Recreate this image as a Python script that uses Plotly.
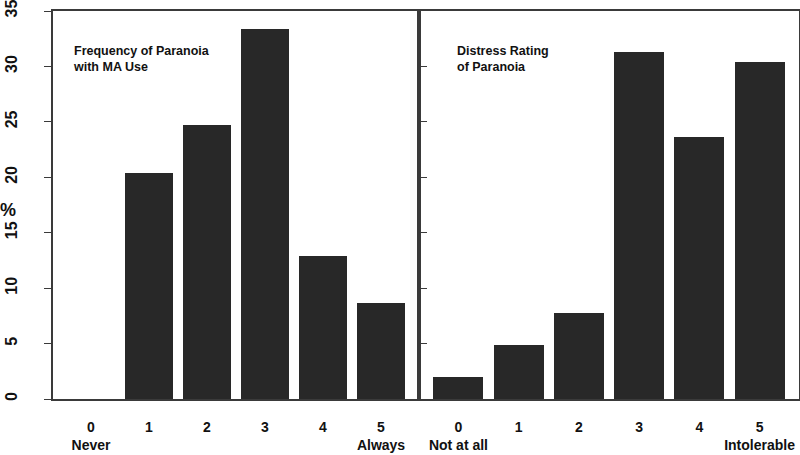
import plotly.graph_objects as go

categories = [0, 1, 2, 3, 4, 5]
freq_labels = ["0<br>Never", "1", "2", "3", "4", "5<br>Always"]
distress_labels = ["0<br>Not at all", "1", "2", "3", "4", "5<br>Intolerable"]
freq_values = [0, 20.4, 24.7, 33.35, 12.9, 8.65]
distress_values = [1.96, 4.87, 7.8, 31.3, 23.6, 30.4]
y_ticks = [0, 5, 10, 15, 20, 25, 30, 35]

bar_color = "#282828"
line_color = "#3a3a3a"
font_bold = "Liberation Sans"

fig = go.Figure()
fig.add_trace(go.Bar(x=categories, y=freq_values, width=0.83, marker_color=bar_color,
                     marker_line_width=0, xaxis="x", yaxis="y", showlegend=False))
fig.add_trace(go.Bar(x=categories, y=distress_values, width=0.83, marker_color=bar_color,
                     marker_line_width=0, xaxis="x2", yaxis="y2", showlegend=False))

split = (419 - 53) / 746

def bold(labels):
    return ["<b>" + "</b><br><b>".join(s.split("<br>")) + "</b>" for s in labels]

xcommon = dict(range=[-0.655, 5.655], tickmode="array", tickvals=categories,
               showline=True, linecolor=line_color, linewidth=1.5, mirror=True,
               ticks="", showgrid=False, zeroline=False, automargin=False,
               ticklabeloverflow="allow",
               tickfont=dict(family=font_bold, size=14, color="#111"),
               ticklabelstandoff=14)

fig.update_layout(
    width=800, height=455,
    margin=dict(l=53, r=1, t=11, b=56, autoexpand=False),
    plot_bgcolor="white", paper_bgcolor="white",
    bargap=0,
    xaxis=dict(domain=[0, split], ticktext=bold(freq_labels), anchor="y", **xcommon),
    xaxis2=dict(domain=[split, 1], ticktext=bold(distress_labels), anchor="y2", **xcommon),
    yaxis=dict(range=[0, 35], tickmode="array", tickvals=y_ticks,
               ticktext=["<b>%d</b>" % v for v in y_ticks], anchor="x",
               showline=True, linecolor=line_color, linewidth=1.5, mirror=True,
               ticks="outside", ticklen=7, tickwidth=1.2, tickcolor=line_color,
               showgrid=False, zeroline=False, tickangle=-90, automargin=False,
               ticklabeloverflow="allow",
               tickfont=dict(family=font_bold, size=16, color="#111"),
               ticklabelstandoff=21),
    yaxis2=dict(range=[0, 35], tickmode="array", tickvals=y_ticks, anchor="x2",
                showline=True, linecolor=line_color, linewidth=1.5, mirror=True,
                ticks="inside", ticklen=8, tickwidth=1.2, tickcolor=line_color,
                showticklabels=False, showgrid=False, zeroline=False, automargin=False),
)

title_font = dict(family="Liberation Sans", size=12.5, color="#111")
fig.add_annotation(text="<b>Frequency of Paranoia<br>with MA Use</b>", xref="paper", yref="paper",
                   x=(71 - 53) / 746, y=(399 - 42) / 388, xanchor="left", yanchor="top",
                   align="left", showarrow=False, font=title_font)
fig.add_annotation(text="<b>Distress Rating<br>of Paranoia</b>", xref="paper", yref="paper",
                   x=(455 - 53) / 746, y=(399 - 42) / 388, xanchor="left", yanchor="top",
                   align="left", showarrow=False, font=title_font)
fig.add_annotation(text="<b>%</b>", xref="paper", yref="paper",
                   x=(8 - 53) / 746, y=(399 - 210) / 388, xanchor="center", yanchor="middle",
                   showarrow=False, font=dict(family=font_bold, size=18, color="#111"))

fig.write_html("out.html", config={"displayModeBar": False},
               post_script="document.body.style.margin='0';document.body.style.padding='0';")
